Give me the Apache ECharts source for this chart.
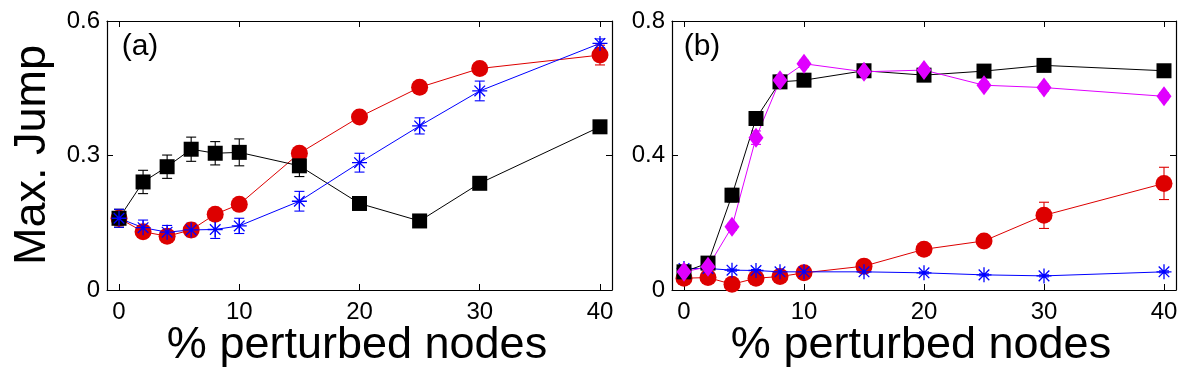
<!DOCTYPE html>
<html>
<head>
<meta charset="utf-8">
<script src="https://cdn.jsdelivr.net/npm/echarts@6/dist/echarts.min.js"></script>
<style>
html,body{margin:0;padding:0;background:#fff;}
#chart{width:1193px;height:379px;}
</style>
</head>
<body>
<div id="chart"></div>
<script>
// ---- data ----
var xValues = [0, 2, 4, 6, 8, 10, 15, 20, 25, 30, 40];
var xTicks = [0, 10, 20, 30, 40];
var yTicksA = [0, 0.3, 0.6];
var yTicksB = [0, 0.4, 0.8];

// panel (a)
var blackA    = [0.160, 0.241, 0.275, 0.314, 0.305, 0.307, 0.277, 0.193, 0.154, 0.238, 0.364];
var blackAErr = [0.020, 0.026, 0.026, 0.027, 0.026, 0.030, 0.024, 0.008, 0.008, 0.008, 0.012];
var redA      = [0.160, 0.130, 0.120, 0.134, 0.169, 0.191, 0.305, 0.386, 0.452, 0.494, 0.524];
var redAErr   = [0.015, 0.010, 0.010, 0.010, 0.010, 0.010, 0.010, 0.010, 0.010, 0.012, 0.022];
var blueA     = [0.160, 0.139, 0.129, 0.134, 0.135, 0.143, 0.198, 0.284, 0.366, 0.444, 0.550];
var blueAErr  = [0.020, 0.017, 0.015, 0.015, 0.020, 0.017, 0.022, 0.021, 0.018, 0.022, 0.010];

// panel (b)
var blackB    = [0.054, 0.080, 0.282, 0.510, 0.619, 0.624, 0.652, 0.639, 0.651, 0.668, 0.652];
var blackBErr = [0.010, 0.010, 0.020, 0.020, 0.015, 0.010, 0.010, 0.010, 0.010, 0.010, 0.010];
var magB      = [0.054, 0.069, 0.188, 0.453, 0.624, 0.673, 0.649, 0.654, 0.609, 0.602, 0.576];
var magBErr   = [0.010, 0.010, 0.010, 0.020, 0.015, 0.010, 0.010, 0.010, 0.010, 0.010, 0.010];
var redB      = [0.035, 0.037, 0.017, 0.035, 0.040, 0.051, 0.071, 0.121, 0.146, 0.222, 0.317];
var redBErr   = [0.005, 0.005, 0.005, 0.005, 0.005, 0.005, 0.010, 0.010, 0.015, 0.039, 0.048];
var blueB     = [0.064, 0.064, 0.059, 0.058, 0.054, 0.054, 0.054, 0.051, 0.045, 0.042, 0.054];
var blueBErr  = [0.003, 0.003, 0.003, 0.003, 0.003, 0.003, 0.003, 0.003, 0.003, 0.003, 0.003];

var panelLabels = ['(a)', '(b)'];
var yTitle = 'Max. Jump';
var xTitle = '% perturbed nodes';

// ---- styles ----
var FONT = "'Liberation Sans', Arial, Helvetica, sans-serif";
var C_BLACK = '#000000', C_RED = '#dd0000', C_BLUE = '#0000ff', C_MAG = '#e000ff';
var ASTER = 'path://M0,-10L0,10M-10,0L10,0M-7.07,-7.07L7.07,7.07M-7.07,7.07L7.07,-7.07';

function pairs(ys) { return xValues.map(function (x, i) { return [x, ys[i]]; }); }
function errData(ys, es) { return xValues.map(function (x, i) { return [x, ys[i] - es[i], ys[i] + es[i]]; }); }

function errSeries(ys, es, color, ai) {
  return {
    type: 'custom', xAxisIndex: ai, yAxisIndex: ai, silent: true,
    data: errData(ys, es),
    renderItem: function (params, api) {
      var lo = api.coord([api.value(0), api.value(1)]);
      var hi = api.coord([api.value(0), api.value(2)]);
      var w = 5;
      var st = { stroke: color, lineWidth: 1.1, fill: null };
      return {
        type: 'group',
        children: [
          { type: 'line', shape: { x1: lo[0], y1: lo[1], x2: hi[0], y2: hi[1] }, style: st },
          { type: 'line', shape: { x1: lo[0] - w, y1: lo[1], x2: lo[0] + w, y2: lo[1] }, style: st },
          { type: 'line', shape: { x1: hi[0] - w, y1: hi[1], x2: hi[0] + w, y2: hi[1] }, style: st }
        ]
      };
    }
  };
}
function lineSeries(ys, color, symbol, size, ai, stroke) {
  return {
    type: 'line', xAxisIndex: ai, yAxisIndex: ai, data: pairs(ys),
    symbol: symbol, symbolSize: size, showSymbol: true,
    lineStyle: { color: color, width: 1 },
    itemStyle: stroke ? { color: 'rgba(0,0,0,0)', borderColor: color, borderWidth: 1.3 } : { color: color, borderWidth: 0 },
    emphasis: { disabled: true }
  };
}

function axisLineStyle() { return { show: true, onZero: false, lineStyle: { color: '#000', width: 1.2 } }; }
function xAx(grid, pos, labels) {
  return {
    type: 'value', gridIndex: grid, position: pos, min: -1, max: 41,
    axisLine: axisLineStyle(), splitLine: { show: false },
    axisTick: { show: true, inside: true, length: 6, customValues: xTicks, lineStyle: { color: '#000', width: 1 } },
    axisLabel: { show: labels, customValues: xTicks, fontSize: 24, color: '#000', fontFamily: FONT, margin: 10 }
  };
}
function yAx(grid, pos, labels, ticks) {
  return {
    type: 'value', gridIndex: grid, position: pos, min: ticks[0], max: ticks[2], interval: ticks[1],
    axisLine: axisLineStyle(), splitLine: { show: false },
    axisTick: { show: true, inside: true, length: 6, lineStyle: { color: '#000', width: 1 } },
    axisLabel: { show: labels, fontSize: 24, color: '#000', fontFamily: FONT, margin: 7 }
  };
}

var chart = echarts.init(document.getElementById('chart'), null, { renderer: 'canvas' });
chart.setOption({
  animation: false,
  backgroundColor: '#fff',
  grid: [
    { left: 107, top: 21, width: 505, height: 269 },
    { left: 672, top: 21, width: 504, height: 269 }
  ],
  xAxis: [xAx(0, 'bottom', true), xAx(0, 'top', false), xAx(1, 'bottom', true), xAx(1, 'top', false)],
  yAxis: [yAx(0, 'left', true, yTicksA), yAx(0, 'right', false, yTicksA), yAx(1, 'left', true, yTicksB), yAx(1, 'right', false, yTicksB)],
  series: [
    // panel (a)
    errSeries(redA, redAErr, C_RED, 0),
    lineSeries(redA, C_RED, 'circle', 17, 0),
    errSeries(blackA, blackAErr, C_BLACK, 0),
    lineSeries(blackA, C_BLACK, 'rect', 15, 0),
    errSeries(blueA, blueAErr, C_BLUE, 0),
    lineSeries(blueA, C_BLUE, ASTER, 15, 0, true),
    // panel (b)
    errSeries(redB, redBErr, C_RED, 2),
    lineSeries(redB, C_RED, 'circle', 17, 2),
    errSeries(blueB, blueBErr, C_BLUE, 2),
    lineSeries(blueB, C_BLUE, ASTER, 15, 2, true),
    errSeries(blackB, blackBErr, C_BLACK, 2),
    lineSeries(blackB, C_BLACK, 'rect', 15, 2),
    errSeries(magB, magBErr, C_MAG, 2),
    lineSeries(magB, C_MAG, 'diamond', [15, 20], 2)
  ],
  graphic: [
    { type: 'text', x: 33, y: 155, rotation: Math.PI / 2,
      style: { text: yTitle, font: '45px ' + FONT, fill: '#000', align: 'center', verticalAlign: 'middle' } },
    { type: 'text', x: 357, y: 346,
      style: { text: xTitle, font: '45px ' + FONT, fill: '#000', align: 'center', verticalAlign: 'middle' } },
    { type: 'text', x: 921, y: 346,
      style: { text: xTitle, font: '45px ' + FONT, fill: '#000', align: 'center', verticalAlign: 'middle' } },
    { type: 'text', x: 140, y: 47,
      style: { text: panelLabels[0], font: '30px ' + FONT, fill: '#000', align: 'center', verticalAlign: 'middle' } },
    { type: 'text', x: 702, y: 47,
      style: { text: panelLabels[1], font: '30px ' + FONT, fill: '#000', align: 'center', verticalAlign: 'middle' } }
  ]
});
</script>
</body>
</html>
